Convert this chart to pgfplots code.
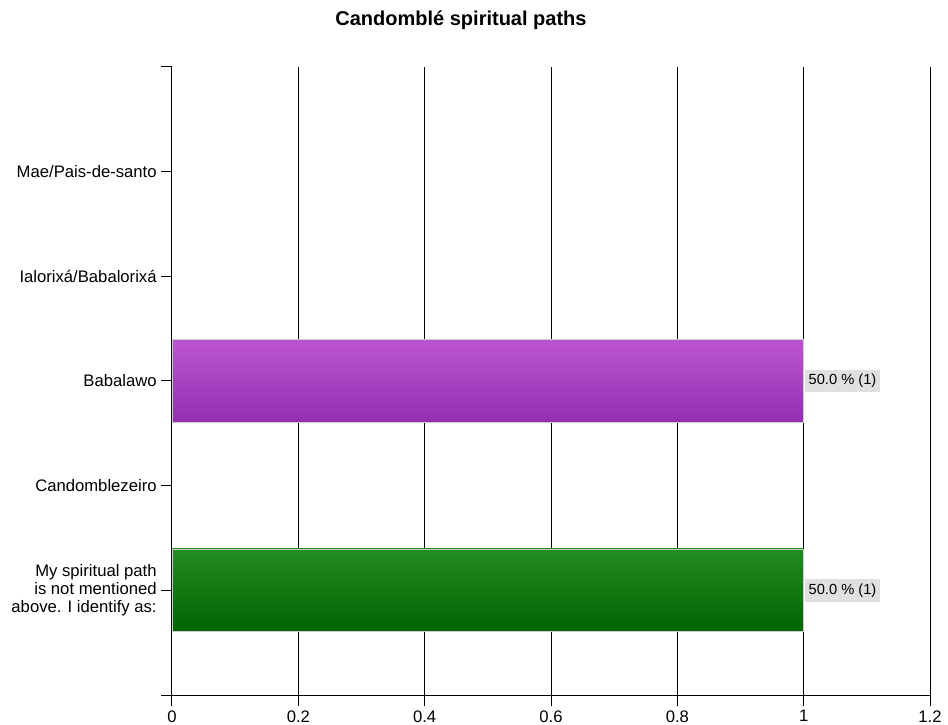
\documentclass[border=0pt]{standalone}
\usepackage{fontspec}
\setmainfont{Liberation Sans}
\usepackage{pgfplots}
\pgfplotsset{compat=1.18}
\usetikzlibrary{calc}

\definecolor{purpleTop}{RGB}{188,84,210}
\definecolor{purpleBot}{RGB}{146,48,176}
\definecolor{greenTop}{RGB}{36,140,36}
\definecolor{greenBot}{RGB}{0,100,0}
\definecolor{labelbg}{RGB}{224,224,224}

\begin{document}
\begin{tikzpicture}
\begin{axis}[
    scale only axis,
    width=568.5pt, height=471pt,
    xmin=0, xmax=1.2,
    ymin=0, ymax=6,
    y dir=reverse,
    axis x line*=bottom,
    axis y line*=left,
    axis line style={-, black, line width=0.75pt},
    xtick={0,0.2,0.4,0.6,0.8,1,1.2},
    xticklabels={0,0.2,0.4,0.6,0.8,1,1.2},
    ytick={0,1,2,3,4,5,6},
    yticklabels={{},{Mae/Pais-de-santo},{Ialorixá/Babalorixá},{Babalawo},{Candomblezeiro},{My spiritual path\\is not mentioned\\above. I identify as:},{}},
    yticklabel style={align=right, font=\fontsize{12.5}{13.5}\selectfont},
    xticklabel style={font=\fontsize{12.5}{13.5}\selectfont},
    tick align=outside,
    major tick length=8pt,
    tick style={black, line width=0.75pt},
    xmajorgrids,
    grid style={black, line width=0.75pt},
    xbar, bar width=0.79,
    nodes near coords,
    point meta=explicit symbolic,
    nodes near coords style={anchor=west, fill=labelbg, inner xsep=2.5pt, inner ysep=3.5pt, xshift=1pt,
        font=\fontsize{11}{12}\selectfont},
    clip=false,
]
\addplot[bar shift=0pt, draw=white!80!black, line width=0.5pt,
    top color=purpleTop, bottom color=purpleBot] coordinates {(1,3) [50.0 \% (1)]};
\addplot[bar shift=0pt, draw=white!80!black, line width=0.5pt,
    top color=greenTop, bottom color=greenBot] coordinates {(1,5) [50.0 \% (1)]};
\end{axis}
\node[font=\bfseries\fontsize{15}{16}\selectfont]
    at ($(current axis.north west)+(216.75pt,35.25pt)$) {Candomblé spiritual paths};
\pgfresetboundingbox
\path ($(current axis.south west)+(-129pt,-22.5pt)$) rectangle ($(current axis.north east)+(13.5pt,50.25pt)$);
\end{tikzpicture}
\end{document}
